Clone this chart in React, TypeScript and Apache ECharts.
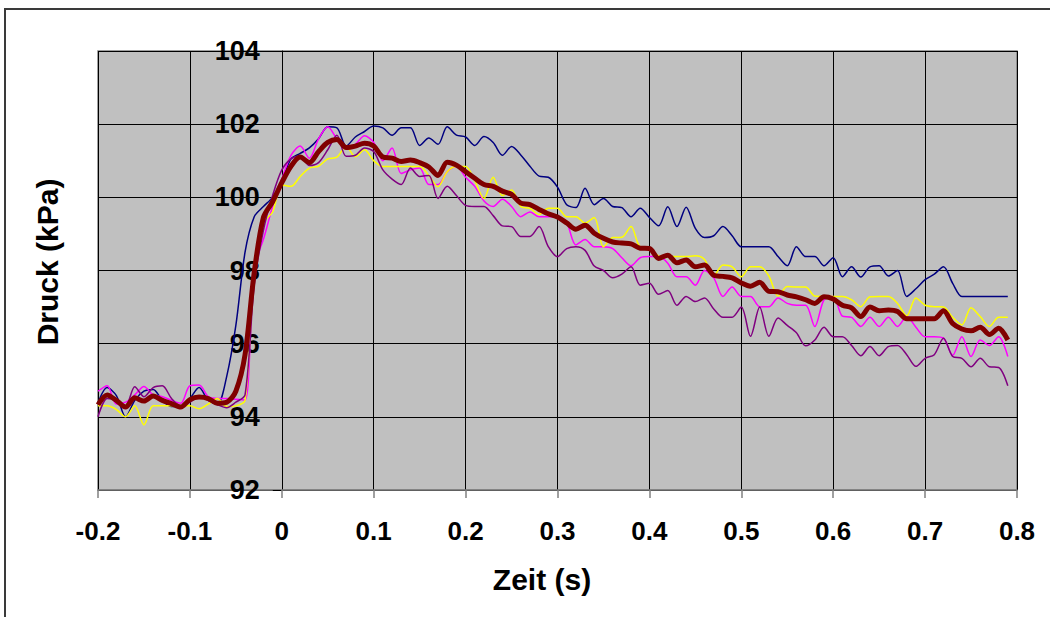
import React, { useEffect, useRef } from "react";
import * as echarts from "echarts";

const times = [
  -0.2, -0.19, -0.18, -0.17, -0.16, -0.15, -0.14, -0.13, -0.12, -0.11,
  -0.1, -0.09, -0.08, -0.07, -0.06, -0.05, -0.04, -0.03, -0.02, -0.01,
  0, 0.01, 0.02, 0.03, 0.04, 0.05, 0.06, 0.07, 0.08, 0.09,
  0.1, 0.11, 0.12, 0.13, 0.14, 0.15, 0.16, 0.17, 0.18, 0.19,
  0.2, 0.21, 0.22, 0.23, 0.24, 0.25, 0.26, 0.27, 0.28, 0.29,
  0.3, 0.31, 0.32, 0.33, 0.34, 0.35, 0.36, 0.37, 0.38, 0.39,
  0.4, 0.41, 0.42, 0.43, 0.44, 0.45, 0.46, 0.47, 0.48, 0.49,
  0.5, 0.51, 0.52, 0.53, 0.54, 0.55, 0.56, 0.57, 0.58, 0.59,
  0.6, 0.61, 0.62, 0.63, 0.64, 0.65, 0.66, 0.67, 0.68, 0.69,
  0.7, 0.71, 0.72, 0.73, 0.74, 0.75, 0.76, 0.77, 0.78, 0.79,
];

const navy = [
  94.38, 94.8, 94.58, 94.0, 94.45, 94.7, 94.75, 94.45, 94.28, 94.28,
  94.5, 94.8, 94.45, 94.35, 95.1, 96.5, 98.5, 99.47, 99.75, 100.0,
  100.45, 101.05, 101.2, 101.35, 101.6, 101.93, 101.9, 101.4, 101.65, 101.8,
  101.95, 101.9, 101.7, 101.9, 101.9, 101.42, 101.62, 101.45, 101.93, 101.7,
  101.65, 101.42, 101.66, 101.5, 101.15, 101.39, 101.16, 100.85, 100.58, 100.55,
  100.28, 99.8, 99.72, 100.25, 99.8, 99.97, 99.75, 99.72, 99.47, 99.7,
  99.45, 99.22, 99.74, 99.2, 99.73, 99.15, 98.9, 98.95, 99.2, 98.95,
  98.65, 98.65, 98.65, 98.65, 98.38, 98.13, 98.65, 98.38, 98.38, 98.13,
  98.35, 97.83, 98.1, 97.82, 98.1, 98.13, 97.85, 98.0, 97.29, 97.5,
  97.75, 97.9, 98.1, 97.65, 97.29, 97.29, 97.29, 97.29, 97.29, 97.29,
];

const magenta = [
  94.7, 94.85, 94.35, 94.4, 94.6, 94.83, 94.6, 94.55, 94.45, 94.37,
  94.85, 94.87, 94.55, 94.5, 94.5, 94.48, 94.46, 98.1, 98.85, 99.75,
  100.5, 101.15, 101.4, 101.07, 101.6, 101.93, 101.6, 101.35, 101.45, 101.68,
  101.5, 101.0, 101.35, 100.65, 100.75, 100.8, 100.35, 100.35, 100.7, 100.84,
  100.55, 100.3, 99.9, 99.75, 99.95, 99.75, 99.47, 99.6, 99.47, 99.47,
  99.47, 99.3, 98.7, 98.85, 98.65, 98.65, 98.6, 98.35, 98.13, 98.35,
  98.38, 98.38, 98.2, 97.83, 97.83, 97.6, 98.0, 97.8, 97.29, 97.55,
  97.29, 97.29, 97.01, 97.01, 97.25, 97.1, 97.05, 97.05, 96.47, 97.2,
  97.29, 96.75, 96.72, 96.47, 96.72, 96.47, 96.72, 96.47, 96.74, 96.45,
  96.19, 96.19, 96.15, 95.68, 96.19, 95.65, 96.1, 95.95, 96.19, 95.65,
];

const yellow = [
  94.3, 94.3, 94.2, 94.0, 94.3, 93.78, 94.3, 94.3, 94.3, 94.3,
  94.3, 94.22, 94.35, 94.5, 94.28, 94.3, 94.45, 97.9, 99.3, 99.6,
  100.34, 100.3, 100.57, 100.8, 100.85, 101.05, 101.1, 101.39, 101.11, 101.3,
  101.0, 100.84, 100.84, 100.84, 100.84, 100.84, 100.6, 100.29, 100.7, 100.84,
  100.84, 100.45, 99.97, 100.55, 100.05, 100.2, 99.75, 99.7, 99.53, 99.7,
  99.7, 99.47, 99.47, 99.3, 99.45, 98.65, 98.9, 98.91, 99.2, 98.65,
  98.63, 98.4, 98.38, 98.38, 98.38, 98.4, 98.3, 97.85, 98.15, 98.1,
  97.83, 98.1, 98.1, 97.85, 97.3, 97.56, 97.55, 97.55, 97.3, 97.29,
  97.29, 97.29, 97.2, 97.01, 97.28, 97.29, 97.29, 97.1, 96.76, 97.25,
  97.05, 97.01, 97.0, 96.72, 96.51, 96.98, 96.74, 96.47, 96.72, 96.72,
];

const purple = [
  94.0, 94.5, 94.45, 94.3, 94.82, 94.55, 94.8, 94.85, 94.5, 94.3,
  94.4, 94.55, 94.45, 94.33, 94.25, 94.4, 94.6, 97.6, 99.1, 100.05,
  100.75, 101.05, 101.13, 100.87, 100.95, 101.3, 101.7, 101.12, 101.15, 101.35,
  101.25, 100.75, 100.5, 100.35, 100.8, 100.57, 100.6, 99.97, 100.3, 100.05,
  99.78, 99.75, 99.75, 99.5, 99.22, 99.2, 98.93, 98.93, 99.2, 98.65,
  98.38, 98.6, 98.65, 98.55, 98.12, 98.0, 97.8, 97.9, 98.1, 97.6,
  97.65, 97.35, 97.45, 97.05, 97.29, 97.15, 97.25, 96.95, 96.72, 96.72,
  97.0, 96.2, 97.0, 96.2, 96.7, 96.5, 96.3, 95.94, 96.1, 96.45,
  96.19, 96.19, 95.95, 95.67, 95.92, 95.67, 95.92, 95.95, 95.7, 95.38,
  95.6, 95.7, 96.15, 95.65, 95.6, 95.37, 95.6, 95.37, 95.35, 94.85,
];

const mean = [
  94.33, 94.6, 94.45, 94.27, 94.52, 94.43, 94.57, 94.45, 94.36, 94.27,
  94.47, 94.54, 94.5, 94.37, 94.4, 94.7, 95.7, 97.95, 99.45, 99.88,
  100.4, 100.85, 101.1, 100.95, 101.25, 101.5, 101.58, 101.36, 101.4, 101.48,
  101.4, 101.1, 101.07, 100.98, 101.02, 100.95, 100.83, 100.6, 100.96, 100.88,
  100.7, 100.52, 100.35, 100.3, 100.17, 100.08, 99.84, 99.8, 99.67, 99.55,
  99.46, 99.3, 99.13, 99.24, 99.02, 98.88, 98.78, 98.75, 98.73, 98.61,
  98.6, 98.33, 98.42, 98.21, 98.29, 98.1, 98.15, 97.87, 97.84, 97.8,
  97.66, 97.57, 97.68, 97.43, 97.42, 97.33, 97.28, 97.2, 97.1, 97.28,
  97.22, 97.05, 96.98, 96.74, 97.0, 96.9, 96.92, 96.88, 96.68, 96.68,
  96.68, 96.68, 96.9, 96.55, 96.4, 96.35, 96.45, 96.25, 96.42, 96.1,
];

const FONT = "'Liberation Sans', Arial, sans-serif";

const GRID_LEFT = 98;
const GRID_RIGHT = 33;
const CHART_W = 1050;
const X_MIN = -0.2;
const X_MAX = 0.8;
// y axis sits where time = 0
const Y_AXIS_OFFSET =
  -((0 - X_MIN) / (X_MAX - X_MIN)) * (CHART_W - GRID_LEFT - GRID_RIGHT);

function pairs(vals: number[]) {
  return times.map((t, i) => [t, vals[i]]);
}

function thin(name: string, vals: number[], color: string) {
  return {
    name,
    type: "line",
    data: pairs(vals),
    showSymbol: false,
    smooth: 0.3,
    lineStyle: { color, width: 1.5 },
    itemStyle: { color },
  };
}

export default function App() {
  const ref = useRef<HTMLDivElement>(null);
  useEffect(() => {
    if (!ref.current) return;
    const chart = echarts.init(ref.current, null, { renderer: "svg" });
    chart.setOption({
      animation: false,
      backgroundColor: "#ffffff",
      grid: {
        left: GRID_LEFT,
        right: GRID_RIGHT,
        top: 51,
        bottom: 127,
        show: true,
        backgroundColor: "#c0c0c0",
        borderColor: "#808080",
        borderWidth: 1.5,
      },
      xAxis: {
        type: "value",
        min: X_MIN,
        max: X_MAX,
        interval: 0.1,
        axisLine: { show: true, onZero: false, lineStyle: { color: "#808080", width: 1.5 } },
        axisTick: { show: true, length: 8, lineStyle: { color: "#808080", width: 1.5 } },
        axisLabel: {
          margin: 28,
          color: "#000",
          fontFamily: FONT,
          fontWeight: "bold",
          fontSize: 26,
        },
        splitLine: { show: true, lineStyle: { color: "#000", width: 1 } },
      },
      yAxis: {
        type: "value",
        min: 92,
        max: 104,
        interval: 2,
        position: "left",
        offset: Y_AXIS_OFFSET,
        axisLine: { show: true, onZero: false, lineStyle: { color: "#000", width: 1 } },
        axisTick: { show: true, length: 9, lineStyle: { color: "#000", width: 1 } },
        axisLabel: {
          margin: 22,
          color: "#000",
          fontFamily: FONT,
          fontWeight: "bold",
          fontSize: 27,
          padding: [4, 0, 0, 0],
        },
        splitLine: { show: true, lineStyle: { color: "#000", width: 1 } },
      },
      graphic: [
        {
          type: "rect",
          shape: { x: 5, y: 9, width: 1100, height: 700 },
          style: { fill: "none", stroke: "#3a3a3a", lineWidth: 2 },
          silent: true,
        },
        {
          type: "text",
          x: 542,
          y: 579,
          style: {
            text: "Zeit (s)",
            fill: "#000",
            font: `bold 30px ${FONT}`,
            textAlign: "center",
            textVerticalAlign: "middle",
          },
        },
        {
          type: "text",
          x: 47,
          y: 262,
          rotation: Math.PI / 2,
          style: {
            text: "Druck (kPa)",
            fill: "#000",
            font: `bold 30px ${FONT}`,
            textAlign: "center",
            textVerticalAlign: "middle",
          },
        },
      ],
      series: [
        thin("Sensor 1", navy, "#000080"),
        thin("Sensor 2", magenta, "#ff00ff"),
        thin("Sensor 3", yellow, "#ffff00"),
        thin("Sensor 4", purple, "#800080"),
        {
          name: "Mittelwert",
          type: "line",
          data: pairs(mean),
          showSymbol: false,
          smooth: 0.3,
          lineStyle: { color: "#800000", width: 5 },
          itemStyle: { color: "#800000" },
          z: 5,
        },
      ],
    });
    return () => chart.dispose();
  }, []);
  return (
    <div
      ref={ref}
      style={{ position: "fixed", left: 0, top: 0, width: 1050, height: 617 }}
    />
  );
}
